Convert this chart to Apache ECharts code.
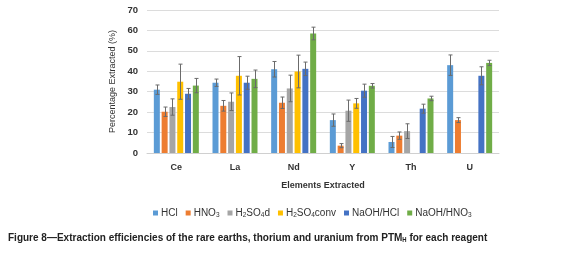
<!DOCTYPE html>
<html lang="en">
<head>
    <meta charset="UTF-8">
    <title>Figure 8</title>
    <script src="https://cdn.jsdelivr.net/npm/echarts@6/dist/echarts.min.js"></script>
    <style type="text/css">
        html, body {
            margin: 0;
            padding: 0;
            background: #fff;
        }
        #main {
            width: 575px;
            height: 259px;
        }
    </style>
</head>
<body>
<div id="main"></div>
<script>
    var elements = ['Ce', 'La', 'Nd', 'Y', 'Th', 'U'];
    var reagents = ['HCl', 'HNO3', 'H2SO4d', 'H2SO4conv', 'NaOH/HCl', 'NaOH/HNO3'];
    var colors = ['#5B9BD5', '#ED7D31', '#A5A5A5', '#FFC000', '#4472C4', '#70AD47'];

    // one array per reagent, order follows elements; '-' = no bar
    var hcl      = [31.0, 34.4, 41.0, 16.1, 5.4, 43.0];
    var hno3     = [20.2, 23.1, 24.6, 3.6, 8.5, 16.1];
    var h2so4d   = [22.5, 25.1, 31.6, 20.7, 10.7, '-'];
    var h2so4c   = [34.9, 37.8, 39.9, 24.3, '-', '-'];
    var naohHcl  = [29.0, 34.4, 41.2, 30.5, 21.7, 37.8];
    var naohHno3 = [33.0, 36.3, 58.5, 32.9, 26.7, 44.1];

    var hclErr      = [2.3, 1.8, 3.8, 3.0, 2.7, 5.0];
    var hno3Err     = [2.3, 2.6, 2.8, 1.0, 1.8, 1.2];
    var h2so4dErr   = [4.0, 4.3, 6.5, 5.2, 3.6, 0];
    var h2so4cErr   = [8.6, 9.4, 8.0, 2.4, 0, 0];
    var naohHclErr  = [2.6, 3.2, 3.3, 3.2, 2.2, 4.4];
    var naohHno3Err = [3.5, 4.3, 3.1, 1.1, 1.1, 1.3];

    var values = [hcl, hno3, h2so4d, h2so4c, naohHcl, naohHno3];
    var errors = [hclErr, hno3Err, h2so4dErr, h2so4cErr, naohHclErr, naohHno3Err];

    var legendText = {
        'HCl': 'HCl',
        'HNO3': 'HNO{s|3}',
        'H2SO4d': 'H{s|2}SO{s|4}d',
        'H2SO4conv': 'H{s|2}SO{s|4}conv',
        'NaOH/HCl': 'NaOH/HCl',
        'NaOH/HNO3': 'NaOH/HNO{s|3}'
    };

    var BAR_W = 6;
    var GAP = 1.8;

    var series = [];
    reagents.forEach(function (name, k) {
        series.push({
            name: name,
            type: 'bar',
            data: values[k],
            barWidth: BAR_W,
            barGap: '30%',
            itemStyle: {color: colors[k]}
        });
    });
    reagents.forEach(function (name, k) {
        var pts = [];
        values[k].forEach(function (v, i) {
            if (v !== '-' && errors[k][i] > 0) pts.push([i, v, errors[k][i]]);
        });
        series.push({
            type: 'custom',
            silent: true,
            z: 5,
            data: pts,
            renderItem: function (params, api) {
                var i = api.value(0), v = api.value(1), e = api.value(2);
                var off = (k - 2.5) * (BAR_W + GAP);
                var top = api.coord([i, v + e]);
                var bot = api.coord([i, v - e]);
                var x = Math.round(top[0] + off) + 0.5;
                var st = {stroke: '#6b6b6b', lineWidth: 1};
                return {
                    type: 'group',
                    children: [
                        {type: 'line', shape: {x1: x, y1: top[1], x2: x, y2: bot[1]}, style: st},
                        {type: 'line', shape: {x1: x - 2, y1: top[1], x2: x + 2, y2: top[1]}, style: st},
                        {type: 'line', shape: {x1: x - 2, y1: bot[1], x2: x + 2, y2: bot[1]}, style: st}
                    ]
                };
            }
        });
    });

    var myChart = echarts.init(document.getElementById('main'));
    var option = {
        animation: false,
        textStyle: {fontFamily: 'Liberation Sans'},
        graphic: [{
            type: 'text',
            left: 8,
            top: 232,
            scaleX: 0.91,
            style: {
                text: 'Figure 8\u2014Extraction efficiencies of the rare earths, thorium and uranium from PTM{s|H} for each reagent',
                font: 'bold 11px "Liberation Sans"',
                fill: '#222',
                rich: {
                    s: {fontFamily: 'Liberation Sans', fontSize: 6.5, fontWeight: 'bold', fill: '#222', color: '#222', verticalAlign: 'bottom', padding: [6, 0, 0, 0]}
                }
            }
        }],
        legend: {
            data: reagents,
            left: 148,
            top: 203,
            icon: 'rect',
            itemWidth: 5,
            itemHeight: 5,
            itemGap: 8,
            formatter: function (name) {
                return legendText[name];
            },
            textStyle: {
                fontSize: 10,
                color: '#333',
                padding: [0, 0, 0, -2],
                rich: {
                    s: {fontSize: 6.5, color: '#333', verticalAlign: 'bottom', padding: [5, 0, 0, 0]}
                }
            }
        },
        grid: {
            left: 147,
            right: 76,
            top: 10,
            bottom: 106
        },
        xAxis: {
            type: 'category',
            data: elements,
            name: 'Elements Extracted',
            nameLocation: 'middle',
            nameGap: 28,
            nameTextStyle: {fontSize: 9, fontWeight: 'bold', color: '#333'},
            axisTick: {show: false},
            axisLine: {lineStyle: {color: '#d0d0d0'}},
            axisLabel: {fontSize: 9, fontWeight: 'bold', color: '#333', margin: 10}
        },
        yAxis: {
            type: 'value',
            min: 0,
            max: 70,
            interval: 10,
            name: 'Percentage Extracted (%)',
            nameLocation: 'middle',
            nameGap: 19,
            nameTextStyle: {fontSize: 9, color: '#333'},
            axisLine: {show: false},
            axisTick: {show: false},
            axisLabel: {fontSize: 9.5, fontWeight: 'bold', color: '#333', margin: 9},
            splitLine: {lineStyle: {color: '#dcdcdc'}}
        },
        series: series
    };
    myChart.setOption(option);
</script>
</body>
</html>
